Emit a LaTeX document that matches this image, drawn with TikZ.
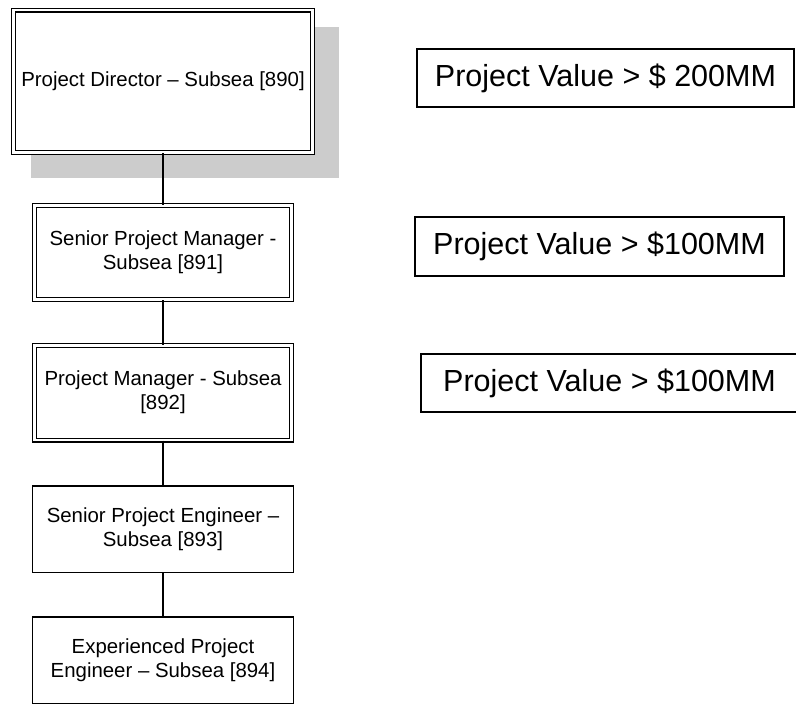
\documentclass[tikz,border=0pt]{standalone}
\usepackage{fontspec}
\setmainfont{Liberation Sans}
\usetikzlibrary{backgrounds}
\definecolor{shadowgray}{HTML}{CCCCCC}

\begin{document}
\begin{tikzpicture}[x=1pt, y=-1pt,
   post/.style={draw, double, double distance=2.8pt, line width=1.1pt, fill=white, align=center, inner sep=0pt, font=\fontsize{20.4}{24}\selectfont},
   role/.style={draw, line width=1.3pt, fill=white, align=center, inner sep=0pt, minimum width=261pt, minimum height=86.5pt, font=\fontsize{20.4}{24}\selectfont},
   band/.style={draw, line width=1.3pt, inner sep=0pt, minimum height=58pt, font=\fontsize{30.5}{35}\selectfont},
   link/.style={line width=1.2pt}]
   \useasboundingbox (0,0) rectangle (796,709);
   \node (dir) at (163,81.2) [post, minimum width=299.3pt, minimum height=142.3pt] {Project Director – Subsea [890]};
   \node (spm) at (163,252.5) [post, minimum width=256.6pt, minimum height=94.4pt] {Senior Project Manager -\\Subsea [891]};
   \node (pm) at (163,392.7) [post, minimum width=256.6pt, minimum height=94.7pt] {Project Manager - Subsea\\{[892]}};
   \node (spe) at (163,529.3) [role] {Senior Project Engineer –\\Subsea [893]};
   \node (epe) at (163,660.3) [role] {Experienced Project\\Engineer – Subsea [894]};
   \begin{scope}[on background layer]
      \fill[shadowgray] ([xshift=18pt,yshift=-18pt]dir.north west) rectangle ([xshift=25.4pt,yshift=-25.4pt]dir.south east);
   \end{scope}
   \draw[link] (dir) -- (spm);
   \draw[link] (spm) -- (pm);
   \draw[link] (pm) -- (spe);
   \draw[link] (spe) -- (epe);
   \node (v200) at (605.5,78) [band, minimum width=377pt] {Project Value > \$ 200MM};
   \node (v100a) at (599.5,246.5) [band, minimum width=369pt, minimum height=59pt] {Project Value > \$100MM};
   \node (v100b) at (609.5,383) [band, minimum width=377pt] {Project Value > \$100MM};
\end{tikzpicture}
\end{document}
